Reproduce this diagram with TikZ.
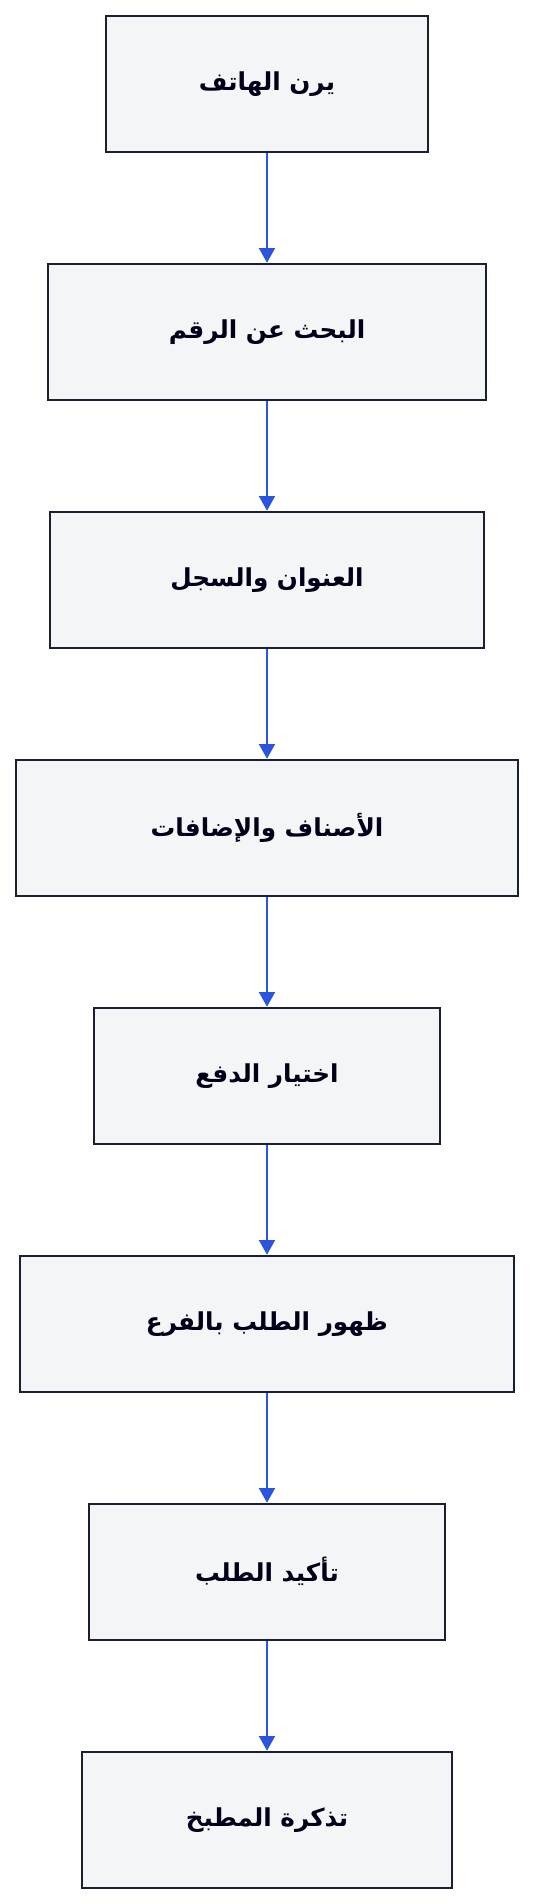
\documentclass[tikz,border=0pt]{standalone}
\usepackage{fontspec}
\newfontfamily\arabicfont[Script=Arabic]{DejaVu Sans}
\TeXXeTstate=1
\usetikzlibrary{arrows.meta}
\definecolor{boxfill}{HTML}{F4F5F7}
\definecolor{boxdraw}{HTML}{1A2030}
\definecolor{arrowblue}{HTML}{2B55DD}
\begin{document}
\begin{tikzpicture}[x=0.75pt,y=-0.75pt,
  stepbox/.style={draw=boxdraw,fill=boxfill,line width=1.5pt,minimum height=102pt,inner sep=0pt,
    font=\arabicfont\bfseries\fontsize{18.5}{22}\selectfont,text=black!90!blue},
  flow/.style={draw=arrowblue,line width=1.5pt,-{Triangle[length=11pt,width=12pt]}}]
\useasboundingbox (0,0) rectangle (534,1904);
\node[stepbox,minimum width=242pt] (n1) at (267,83.7) {\beginR يرن الهاتف\endR};
\node[stepbox,minimum width=328pt] (n2) at (267,331.7) {\beginR البحث عن الرقم\endR};
\node[stepbox,minimum width=326pt] (n3) at (267,579.7) {\beginR العنوان والسجل\endR};
\node[stepbox,minimum width=377pt] (n4) at (267,827.7) {\beginR الأصناف والإضافات\endR};
\node[stepbox,minimum width=259pt] (n5) at (267,1075.7) {\beginR اختيار الدفع\endR};
\node[stepbox,minimum width=371pt] (n6) at (267,1323.7) {\beginR ظهور الطلب بالفرع\endR};
\node[stepbox,minimum width=267pt] (n7) at (267,1571.7) {\beginR تأكيد الطلب\endR};
\node[stepbox,minimum width=278pt] (n8) at (267,1819.7) {\beginR تذكرة المطبخ\endR};
\draw[flow] (n1) -- (n2);
\draw[flow] (n2) -- (n3);
\draw[flow] (n3) -- (n4);
\draw[flow] (n4) -- (n5);
\draw[flow] (n5) -- (n6);
\draw[flow] (n6) -- (n7);
\draw[flow] (n7) -- (n8);
\end{tikzpicture}
\end{document}
